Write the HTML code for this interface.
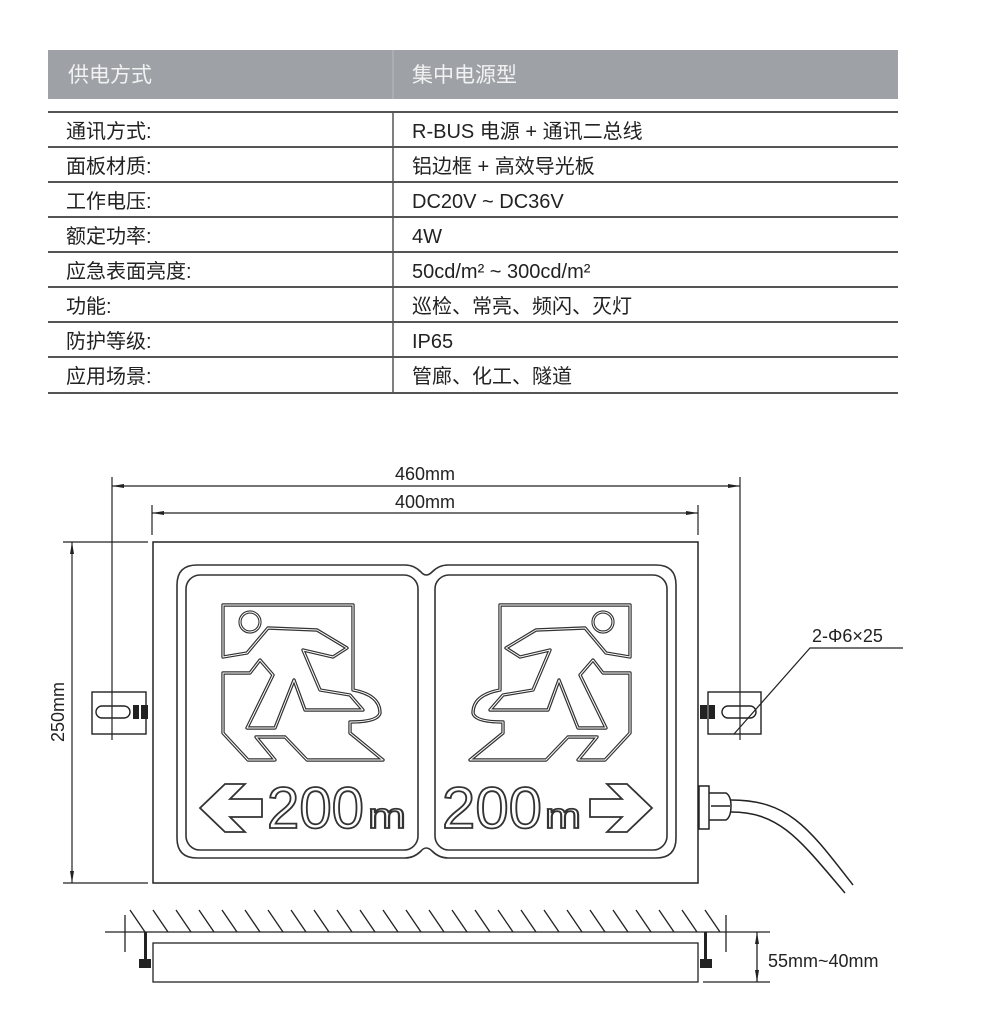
<!DOCTYPE html>
<html><head><meta charset="utf-8"><style>
html,body{margin:0;padding:0;background:#fff;}
svg{display:block;}
.t{font-family:"Liberation Sans","Noto Sans CJK SC",sans-serif;}
</style></head><body>
<svg width="1000" height="1020" viewBox="0 0 1000 1020" xmlns="http://www.w3.org/2000/svg">
<rect x="48" y="50" width="850" height="49" fill="#9ea2a7"/>
<line x1="393" y1="50" x2="393" y2="99" stroke="#b8bcc0" stroke-width="1"/>
<g class="t" font-size="21" fill="#f2f2f2">
<text x="68" y="82">供电方式</text>
<text x="412" y="82">集中电源型</text>
</g>
<g stroke="#555" stroke-width="2">
<line x1="48" y1="112" x2="898" y2="112"/>
<line x1="48" y1="147" x2="898" y2="147"/>
<line x1="48" y1="182" x2="898" y2="182"/>
<line x1="48" y1="217" x2="898" y2="217"/>
<line x1="48" y1="252" x2="898" y2="252"/>
<line x1="48" y1="287" x2="898" y2="287"/>
<line x1="48" y1="322" x2="898" y2="322"/>
<line x1="48" y1="357" x2="898" y2="357"/>
<line x1="48" y1="393" x2="898" y2="393"/>
</g>
<line x1="393" y1="112" x2="393" y2="393" stroke="#555" stroke-width="1.5"/>
<g class="t" font-size="20" fill="#222">
<text x="66" y="138">通讯方式:</text>
<text x="66" y="173">面板材质:</text>
<text x="66" y="208">工作电压:</text>
<text x="66" y="243">额定功率:</text>
<text x="66" y="278">应急表面亮度:</text>
<text x="66" y="313">功能:</text>
<text x="66" y="348">防护等级:</text>
<text x="66" y="383">应用场景:</text>
<text x="412" y="138">R-BUS 电源 + 通讯二总线</text>
<text x="412" y="173">铝边框 + 高效导光板</text>
<text x="412" y="208">DC20V ~ DC36V</text>
<text x="412" y="243">4W</text>
<text x="412" y="278">50cd/m² ~ 300cd/m²</text>
<text x="412" y="313">巡检、常亮、频闪、灭灯</text>
<text x="412" y="348">IP65</text>
<text x="412" y="383">管廊、化工、隧道</text>
</g>

<g stroke="#222" stroke-width="1.2" fill="none">
<line x1="112" y1="477" x2="112" y2="740"/>
<line x1="740" y1="477" x2="740" y2="740"/>
<line x1="112" y1="486" x2="740" y2="486"/>
<line x1="152" y1="505" x2="152" y2="535"/>
<line x1="698" y1="505" x2="698" y2="535"/>
<line x1="152" y1="513" x2="698" y2="513"/>
<line x1="63" y1="542" x2="148" y2="542"/>
<line x1="63" y1="883" x2="148" y2="883"/>
<line x1="72" y1="542" x2="72" y2="883"/>
</g>
<g fill="#222">
<polygon points="112,486 124,484 124,488"/><polygon points="740,486 728,484 728,488"/>
<polygon points="152,513 164,511 164,515"/><polygon points="698,513 686,511 686,515"/>
<polygon points="72,542 70,554 74,554"/><polygon points="72,883 70,871 74,871"/>
</g>
<g class="t" font-size="18" fill="#222">
<text x="425" y="480" text-anchor="middle">460mm</text>
<text x="425" y="508" text-anchor="middle">400mm</text>
<text transform="translate(64,712) rotate(-90)" text-anchor="middle">250mm</text>
<text x="812" y="642">2-Φ6×25</text>
<text x="768" y="967">55mm~40mm</text>
</g>

<rect x="153" y="542" width="545" height="341" fill="none" stroke="#222" stroke-width="1.5"/>
<g fill="none" stroke="#333" stroke-width="1.6">
<path d="M197,565 H405 Q414,565 421,572 Q426,578 432,572 Q439,565 448,565 H656 Q676,565 676,585 V838 Q676,858 656,858 H448 Q439,858 432,851 Q426,845 421,851 Q414,858 405,858 H197 Q177,858 177,838 V585 Q177,565 197,565 Z"/>
<rect x="186" y="575" width="232" height="275" rx="14"/>
<rect x="435" y="575" width="232" height="275" rx="14"/>
</g>

<g id="man">
<path d="M223,673 L250,673 L260,660 L273,675 L247,728 L275,728 L294,680 L305,710 L363,710 L350,695 L320,690 L303,650 L333,657 L347,648 L317,630 L268,628 L247,653 L223,657 L223,605 L353,605 L353,690 Q380,695 380,713 Q378,722 350,722 L350,733 L383,760 L307,760 L285,737 L256,737 L275,760 L248,760 L223,733 Z" fill="none" stroke="#333" stroke-width="3.4" stroke-linejoin="round"/>
<path d="M223,673 L250,673 L260,660 L273,675 L247,728 L275,728 L294,680 L305,710 L363,710 L350,695 L320,690 L303,650 L333,657 L347,648 L317,630 L268,628 L247,653 L223,657 L223,605 L353,605 L353,690 Q380,695 380,713 Q378,722 350,722 L350,733 L383,760 L307,760 L285,737 L256,737 L275,760 L248,760 L223,733 Z" fill="none" stroke="#fff" stroke-width="1" stroke-linejoin="round"/>
<circle cx="250" cy="622" r="10" fill="none" stroke="#333" stroke-width="3.2"/>
<circle cx="250" cy="622" r="10" fill="none" stroke="#fff" stroke-width="1"/>
</g>
<use href="#man" transform="translate(853,0) scale(-1,1)"/>

<g class="t" fill="#fff" stroke="#333" stroke-width="1.8">
<polygon points="200,808 225,784 245,784 230,799 262,799 262,817 230,817 245,832 225,832"/>
<text x="267" y="828" font-size="58" textLength="97" lengthAdjust="spacingAndGlyphs">200</text>
<text x="368" y="828" font-size="36" textLength="38" lengthAdjust="spacingAndGlyphs">m</text>
<text x="442" y="828" font-size="58" textLength="100" lengthAdjust="spacingAndGlyphs">200</text>
<text x="545" y="828" font-size="36" textLength="36" lengthAdjust="spacingAndGlyphs">m</text>
<polygon points="652,808 627,784 607,784 622,799 590,799 590,817 622,817 607,832 627,832"/>
</g>

<g fill="none" stroke="#222" stroke-width="1.4">
<rect x="92" y="692" width="54" height="42"/>
<rect x="96" y="706" width="34" height="12" rx="6"/>
<rect x="708" y="692" width="53" height="42"/>
<rect x="722" y="706" width="34" height="12" rx="6"/>
</g>
<g fill="#222">
<rect x="133" y="705" width="6" height="14"/><rect x="141" y="705" width="7" height="14"/>
<rect x="700" y="705" width="7" height="14"/><rect x="709" y="705" width="6" height="14"/>
</g>
<polyline points="734,734 810,648 903,648" fill="none" stroke="#222" stroke-width="1.2"/>

<g fill="none" stroke="#222" stroke-width="1.5">
<rect x="699" y="786" width="10" height="43"/>
<path d="M709,793 H726 Q731,796 731,806 Q731,817 726,820 H709"/>
<line x1="711" y1="806" x2="730" y2="806"/>
<path d="M731,800 C790,800 810,830 853,885"/>
<path d="M731,812 C780,812 800,840 845,893"/>
</g>

<g stroke="#222" stroke-width="1.3" fill="none">
<line x1="105" y1="932" x2="770" y2="932"/>
<rect x="153" y="943" width="545" height="39"/>
<line x1="703" y1="982" x2="770" y2="982"/>
<line x1="757" y1="932" x2="757" y2="982"/>
<line x1="125" y1="915" x2="125" y2="952"/>
<line x1="726" y1="915" x2="726" y2="952"/>
<path d="M130,910 L145,932 M153,910 L168,932 M176,910 L191,932 M199,910 L214,932 M222,910 L237,932 M245,910 L260,932 M268,910 L283,932 M291,910 L306,932 M314,910 L329,932 M337,910 L352,932 M360,910 L375,932 M383,910 L398,932 M406,910 L421,932 M429,910 L444,932 M452,910 L467,932 M475,910 L490,932 M498,910 L513,932 M521,910 L536,932 M544,910 L559,932 M567,910 L582,932 M590,910 L605,932 M613,910 L628,932 M636,910 L651,932 M659,910 L674,932 M682,910 L697,932 M705,910 L720,932"/>
</g>
<g fill="#222">
<polygon points="757,932 755,944 759,944"/><polygon points="757,982 755,970 759,970"/>
<rect x="144" y="932" width="3" height="30"/><rect x="139" y="959" width="12" height="9"/>
<rect x="704" y="932" width="3" height="30"/><rect x="700" y="959" width="12" height="9"/>
</g>
</svg>
</body></html>
